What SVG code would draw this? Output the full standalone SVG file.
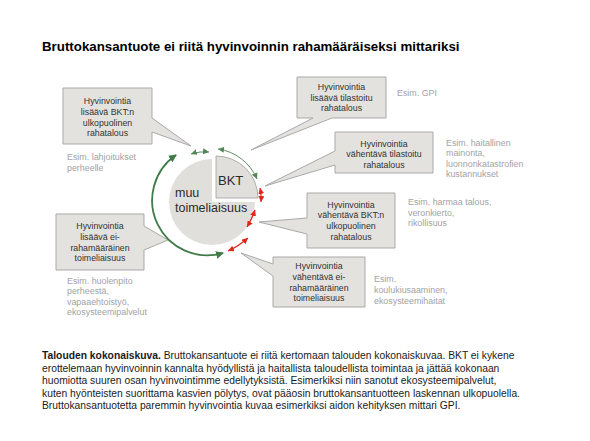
<svg xmlns="http://www.w3.org/2000/svg" width="590" height="441" viewBox="0 0 590 441">
<style>
.box{fill:#e3e2de;stroke:#a9a9a9;stroke-width:1}
.bt{font-family:"Liberation Sans",Arial,sans-serif;font-size:8.8px;fill:#333;text-anchor:middle}
.ex{font-family:"Liberation Sans",Arial,sans-serif;font-size:8.9px;fill:#a3a3a3}
.cap{font-family:"Liberation Sans",Arial,sans-serif;font-size:10.3px;fill:#1a1a1a}
.gr{fill:none;stroke:#3f7a47;stroke-width:1.8}
.gt{fill:none;stroke:#5f8d63;stroke-width:1}
.rd{fill:none;stroke:#e1261c;stroke-width:1.2}
</style>
<defs>
<marker id="gA" markerUnits="userSpaceOnUse" markerWidth="9" markerHeight="8" refX="7" refY="4" orient="auto-start-reverse"><path d="M0,0 L8,4 L0,8 Z" fill="#3f7a47"/></marker>
<marker id="gS" markerUnits="userSpaceOnUse" markerWidth="7" markerHeight="6" refX="6" refY="3" orient="auto-start-reverse"><path d="M0,0 L6,3 L0,6 Z" fill="#4f8755"/></marker>
<marker id="rA" markerUnits="userSpaceOnUse" markerWidth="7" markerHeight="6" refX="6" refY="3" orient="auto-start-reverse"><path d="M0,0 L6,3 L0,6 Z" fill="#e1261c"/></marker>
</defs>
<rect width="590" height="441" fill="#fff"/>
<text x="42" y="50.5" font-family="'Liberation Sans',Arial,sans-serif" font-size="13.3" font-weight="bold" fill="#000">Bruttokansantuote ei riitä hyvinvoinnin rahamääräiseksi mittariksi</text>

<g id="disk">
<path d="M212,202 L212,159 A43,43 0 1 0 255,202 Z" fill="#e1dfdb"/>
<path d="M216,198 L216,156 A42,42 0 0 1 258,198 Z" fill="#e1dfdb" stroke="#9d9d9d" stroke-width="0.8"/>
<text x="218" y="185" font-family="'Liberation Sans',Arial,sans-serif" font-size="13" fill="#2b2b2b">BKT</text>
<text x="175" y="197" font-family="'Liberation Sans',Arial,sans-serif" font-size="12.5" fill="#2b2b2b">muu</text>
<text x="175" y="212" font-family="'Liberation Sans',Arial,sans-serif" font-size="12.5" fill="#2b2b2b">toimeliaisuus</text>
</g>

<g id="nodeA">
<path class="box" d="M63,88 H152 V118 L191,146 L152,132 V144 H63 Z"/>
<text class="bt"><tspan x="107.5" y="104">Hyvinvointia</tspan><tspan x="107.5" y="114.8">lisäävä BKT:n</tspan><tspan x="107.5" y="125.6">ulkopuolinen</tspan><tspan x="107.5" y="136.4">rahatalous</tspan></text>
<text class="ex"><tspan x="67" y="160">Esim. lahjoitukset</tspan><tspan x="67" y="171">perheelle</tspan></text>
</g>

<g id="nodeB">
<path class="box" d="M297,77 H386 V118 H332 L251,150 L313,118 H297 Z"/>
<text class="bt"><tspan x="341.5" y="89.8">Hyvinvointia</tspan><tspan x="341.5" y="100.6">lisäävä tilastoitu</tspan><tspan x="341.5" y="111.4">rahatalous</tspan></text>
<text class="ex" x="397" y="96">Esim. GPI</text>
</g>

<g id="nodeC">
<path class="box" d="M335,132 H433 V173 H335 V165 L265,186 L335,151 Z"/>
<text class="bt"><tspan x="384" y="146.5">Hyvinvointia</tspan><tspan x="384" y="157">vähentävä tilastoitu</tspan><tspan x="384" y="167.5">rahatalous</tspan></text>
<text class="ex"><tspan x="446" y="146">Esim. haitallinen</tspan><tspan x="446" y="156.3">mainonta,</tspan><tspan x="446" y="166.6">luonnonkatastrofien</tspan><tspan x="446" y="177">kustannukset</tspan></text>
</g>

<g id="nodeD">
<path class="box" d="M307,193 H395 V248 H307 V234 L259,222 L307,218 Z"/>
<text class="bt"><tspan x="351" y="207.5">Hyvinvointia</tspan><tspan x="351" y="218.3">vähentävä BKT:n</tspan><tspan x="351" y="229.1">ulkopuolinen</tspan><tspan x="351" y="239.9">rahatalous</tspan></text>
<text class="ex"><tspan x="408" y="205">Esim. harmaa talous,</tspan><tspan x="408" y="215.5">veronkierto,</tspan><tspan x="408" y="226">rikollisuus</tspan></text>
</g>

<g id="nodeE">
<path class="box" d="M56,214 H144 V226 L168,240 L144,250 V270 H56 Z"/>
<text class="bt"><tspan x="100" y="229">Hyvinvointia</tspan><tspan x="100" y="239.8">lisäävä ei-</tspan><tspan x="100" y="250.6">rahamääräinen</tspan><tspan x="100" y="261.4">toimeliaisuus</tspan></text>
<text class="ex"><tspan x="67" y="283.5">Esim. huolenpito</tspan><tspan x="67" y="294">perheestä,</tspan><tspan x="67" y="304.5">vapaaehtoistyö,</tspan><tspan x="67" y="315">ekosysteemipalvelut</tspan></text>
</g>

<g id="nodeF">
<path class="box" d="M273,257 H365 V307 H273 V276 L241,253 L273,264 Z"/>
<text class="bt"><tspan x="319" y="269">Hyvinvointia</tspan><tspan x="319" y="279.8">vähentävä ei-</tspan><tspan x="319" y="290.6">rahamääräinen</tspan><tspan x="319" y="301.4">toimeliaisuus</tspan></text>
<text class="ex"><tspan x="374" y="282">Esim.</tspan><tspan x="374" y="293">koulukiusaaminen,</tspan><tspan x="374" y="304">ekosysteemihaitat</tspan></text>
</g>

<g id="connectors">
<path class="gr" d="M223,253 A55,55 0 0 1 176,155" marker-start="url(#gA)" marker-end="url(#gA)"/>
<path class="gt" d="M191,154 Q200,151 209,152" marker-start="url(#gS)" marker-end="url(#gS)" stroke-width="1.2"/>
<path class="gt" d="M218,149 A50,50 0 0 1 257,179" marker-start="url(#gS)" marker-end="url(#gS)"/>
<path class="rd" d="M260,188 Q261.5,195 261,202" marker-start="url(#rA)" marker-end="url(#rA)"/>
<path class="rd" d="M255,210 Q252,219 247,227" marker-start="url(#rA)" marker-end="url(#rA)"/>
<path class="rd" d="M248,238 Q239,246 228,251" marker-start="url(#rA)" marker-end="url(#rA)" stroke-width="1.8"/>
</g>

<text class="cap"><tspan x="42" y="359"><tspan font-weight="bold">Talouden kokonaiskuva.</tspan> Bruttokansantuote ei riitä kertomaan talouden kokonaiskuvaa. BKT ei kykene</tspan><tspan x="42" y="371.5">erottelemaan hyvinvoinnin kannalta hyödyllistä ja haitallista taloudellista toimintaa ja jättää kokonaan</tspan><tspan x="42" y="384">huomiotta suuren osan hyvinvointimme edellytyksistä. Esimerkiksi niin sanotut ekosysteemipalvelut,</tspan><tspan x="42" y="396.5">kuten hyönteisten suorittama kasvien pölytys, ovat pääosin bruttokansantuotteen laskennan ulkopuolella.</tspan><tspan x="42" y="409">Bruttokansantuotetta paremmin hyvinvointia kuvaa esimerkiksi aidon kehityksen mittari GPI.</tspan></text>
</svg>
